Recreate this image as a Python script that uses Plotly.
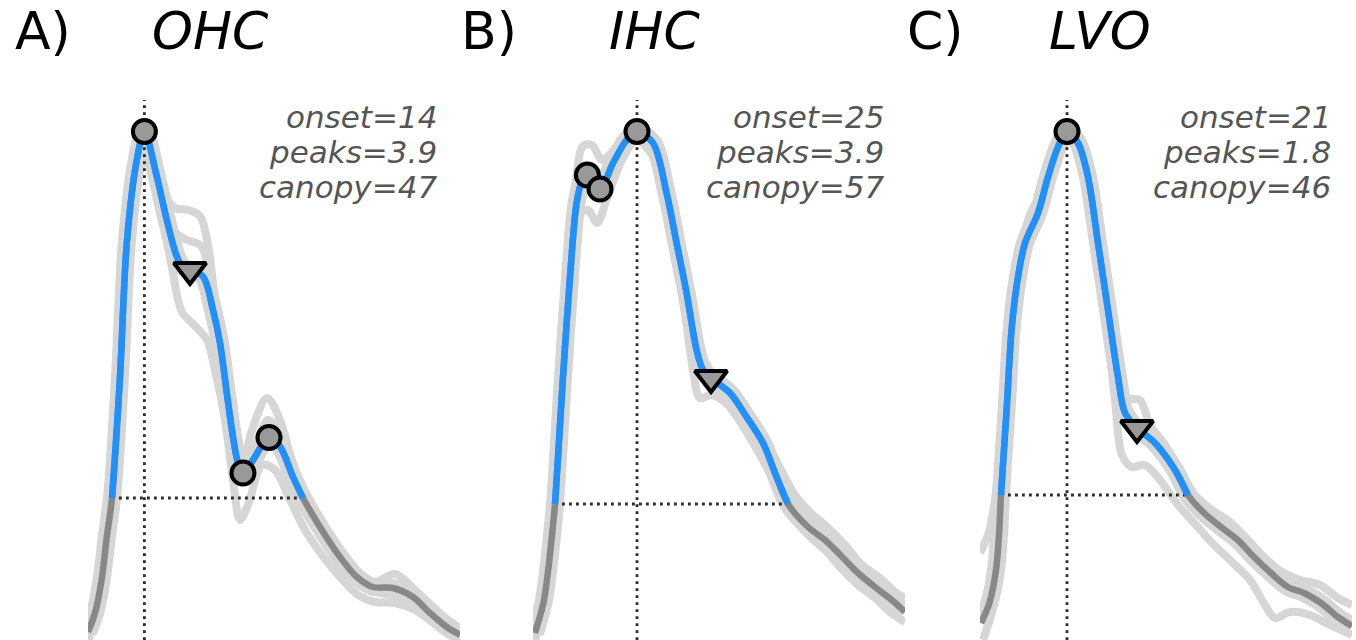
import plotly.graph_objects as go

# ---------------- data (time in ms, amplitude in % of peak) ----------------
A_x = [8.0, 9.75, 11.4, 12.7, 14.0, 16.0, 17.7, 20.2, 22.1, 25.2, 27.7, 30.2, 31.75, 33.5, 36.75,
       39.25, 41.0, 42.7, 44.25, 45.5, 46.75, 49.25, 53.25, 56.0, 59.25, 61.75, 66.0, 71.0, 75.2,
       79.25, 84.25, 89.25, 93.5, 97.7, 101.0]
A_y = [1.6, 5.4, 12.0, 20.6, 28.4, 52.6, 79.4, 96.0, 101.7, 92.7, 84.0, 76.7, 74.6, 74.0, 72.7,
       66.0, 59.4, 49.4, 40.6, 35.4, 33.4, 36.0, 40.5, 38.7, 32.6, 28.4, 22.6, 16.6, 12.6,
       10.6, 10.4, 8.6, 5.4, 2.6, 1.0]
A_boot1_x = [8.0, 9.75, 11.5, 12.75, 14.0, 16.0, 17.75, 20.25, 22.25, 24.75, 27.25, 29.75, 33.0, 36.0,
             38.0, 39.75, 41.5, 43.5, 45.25, 46.75, 49.0, 52.75, 56.0, 59.25, 62.25, 66.0, 71.0, 75.5,
             79.75, 84.75, 89.75, 94.0, 98.0, 101.0]
A_boot1_y = [3.6, 7.6, 14.6, 22.6, 31.6, 55.6, 80.0, 96.4, 101.4, 96.0, 89.0, 86.4, 86.0, 84.8,
             79.0, 68.0, 58.0, 46.0, 38.0, 35.6, 42.0, 48.4, 44.0, 35.0, 29.0, 24.0, 18.0, 13.6,
             11.6, 13.2, 10.0, 6.8, 4.0, 2.4]
A_boot2_x = [8.0, 10.0, 11.75, 13.25, 14.5, 16.25, 18.0, 20.25, 22.25, 24.25, 26.5, 29.0, 31.5, 34.75,
             37.75, 39.75, 42.25, 44.25, 46.0, 48.0, 51.5, 54.75, 58.5, 62.25, 66.5, 71.0, 75.5,
             79.75, 84.75, 89.75, 94.0, 98.0, 101.0]
A_boot2_y = [0.0, 4.0, 11.0, 20.0, 30.0, 52.0, 78.0, 95.0, 100.8, 94.0, 85.0, 74.4, 65.6, 62.8,
             60.0, 54.0, 44.0, 32.0, 24.0, 27.0, 35.0, 34.0, 28.0, 22.0, 17.0, 12.6, 9.0,
             7.6, 7.4, 6.0, 3.6, 1.2, -0.4]
A_boot3_x = [8.0, 10.0, 11.75, 13.0, 14.25, 16.25, 18.0, 20.25, 22.25, 24.75, 27.25, 29.75, 32.75,
             36.0, 38.5, 40.5, 42.5, 44.25, 46.0, 47.75, 50.5, 53.0, 56.5, 60.0, 63.5, 67.25, 71.75,
             76.0, 80.5, 85.0, 89.75, 94.0, 98.0, 101.0]
A_boot3_y = [2.8, 7.0, 14.0, 22.0, 31.0, 54.0, 79.0, 95.6, 101.6, 95.0, 87.0, 81.6, 80.0,
             79.0, 74.0, 62.0, 50.0, 40.0, 32.0, 32.4, 40.0, 44.0, 41.0, 33.0, 26.0, 21.0, 15.6,
             12.0, 9.6, 8.8, 7.6, 4.8, 2.0, 0.6]
A_peaks_x = [22.1, 46.75, 53.25]
A_peaks_y = [101.7, 33.4, 40.5]
A_tri_x = [33.5]
A_tri_y = [74.0]
A_onset, A_offset, A_level = 14.0, 61.75, 28.4

B_x = [20.0, 22.1, 23.3, 24.2, 25.0, 27.0, 28.75, 30.4, 31.7, 33.1, 36.25, 39.5, 42.9, 45.5, 49.5,
       52.9, 55.4, 57.9, 60.4, 62.0, 64.0, 68.75, 72.9, 77.0, 80.0, 83.25, 88.25, 92.5, 96.7,
       100.75, 105.0, 109.2, 112.5]
B_y = [1.4, 7.4, 14.0, 20.6, 27.2, 52.6, 72.6, 87.4, 91.7, 93.0, 90.2, 95.4, 100.0, 101.7, 99.4,
       89.4, 79.4, 69.4, 58.0, 54.0, 52.4, 49.4, 44.6, 39.4, 33.4, 27.2, 22.6, 20.0, 16.7,
       13.4, 10.6, 8.0, 5.6]
B_boot1_x = [20.0, 22.0, 23.25, 24.25, 25.25, 27.0, 28.75, 30.25, 32.0, 34.25, 36.75, 39.75, 42.75,
             45.5, 48.75, 52.25, 55.25, 58.25, 60.75, 63.75, 68.25, 72.75, 77.25, 81.25, 85.0,
             88.75, 93.0, 97.5, 101.75, 106.25, 110.0, 112.5]
B_boot1_y = [2.4, 8.4, 15.0, 22.0, 30.0, 54.0, 76.0, 92.0, 98.8, 99.0, 96.0, 98.0, 101.2,
             102.6, 101.0, 91.0, 80.0, 68.0, 59.0, 54.0, 51.0, 46.0, 40.6, 34.4, 29.0,
             25.6, 22.6, 19.0, 15.0, 12.4, 9.6, 8.4]
B_boot2_x = [20.0, 22.25, 23.5, 24.5, 25.5, 27.5, 29.25, 31.0, 33.25, 35.5, 38.25, 41.75, 45.25,
             49.25, 52.25, 54.75, 57.25, 59.5, 61.25, 64.25, 68.25, 72.25, 76.25, 80.25, 84.25,
             88.25, 92.5, 96.25, 100.75, 105.0, 108.75, 112.5]
B_boot2_y = [0.0, 6.0, 13.0, 20.0, 28.0, 51.0, 70.0, 85.0, 86.0, 83.4, 89.0, 96.0, 100.0,
             97.0, 88.0, 78.0, 67.0, 54.0, 48.4, 49.0, 47.0, 42.4, 37.0, 31.0, 25.0,
             21.0, 18.0, 14.6, 11.0, 8.4, 5.6, 3.6]
B_peaks_x = [45.5, 33.1, 36.25]
B_peaks_y = [101.7, 93.0, 90.2]
B_tri_x = [64.0]
B_tri_y = [52.4]
B_onset, B_offset, B_level = 25.0, 83.25, 27.2

C_x = [16.0, 18.1, 19.75, 20.5, 21.0, 22.4, 23.7, 25.25, 27.0, 30.25, 32.75, 35.25, 37.5, 40.25,
       42.75, 45.25, 47.75, 50.25, 52.0, 55.0, 59.5, 64.5, 67.75, 71.75, 76.0, 80.2, 84.25, 88.5,
       92.7, 96.75, 101.0, 105.2, 108.75]
C_y = [3.4, 7.4, 14.0, 21.0, 29.0, 46.0, 62.6, 72.6, 79.4, 85.4, 92.6, 98.6, 101.7, 99.4,
       92.6, 79.4, 66.0, 52.6, 45.4, 42.4, 39.4, 34.0, 29.0, 25.4, 22.6, 20.0, 16.6, 13.4,
       10.6, 9.4, 7.4, 4.6, 2.8]
C_boot1_x = [15.75, 17.75, 19.5, 21.0, 22.5, 24.0, 25.75, 28.25, 31.25, 33.75, 36.25, 38.75, 41.25,
             43.75, 46.25, 48.75, 50.75, 52.75, 55.75, 58.25, 62.0, 65.75, 69.5, 73.75, 78.25,
             82.75, 87.0, 91.25, 95.75, 100.75, 105.25, 108.75]
C_boot1_y = [17.4, 21.0, 28.0, 40.0, 54.0, 68.0, 78.0, 85.0, 90.0, 97.0, 101.6, 102.0, 98.0,
             88.0, 75.0, 62.0, 52.0, 48.4, 48.0, 43.0, 39.0, 34.0, 29.0, 26.0, 23.6,
             20.0, 16.4, 13.6, 12.0, 11.0, 8.4, 7.0]
C_boot2_x = [16.5, 18.75, 20.25, 21.25, 22.25, 23.5, 25.0, 26.75, 29.5, 32.25, 35.25, 37.5, 39.75,
             42.25, 44.75, 47.25, 49.5, 51.25, 53.75, 57.0, 60.75, 65.25, 69.75, 74.25, 78.75,
             83.25, 87.0, 89.5, 93.25, 98.25, 103.25, 108.75]
C_boot2_y = [0.0, 5.6, 13.0, 22.0, 34.0, 52.0, 66.0, 75.0, 83.0, 91.0, 98.0, 100.8, 99.0,
             91.0, 78.0, 64.0, 48.0, 37.0, 34.6, 35.0, 32.0, 27.0, 23.0, 19.0, 15.6,
             12.0, 7.0, 4.4, 5.6, 5.0, 3.0, 1.0]
C_peaks_x = [37.5]
C_peaks_y = [101.7]
C_tri_x = [55.0]
C_tri_y = [42.4]
C_onset, C_offset, C_level = 21.0, 67.75, 29.0

letters = ["A)", "B)", "C)"]
titles = ["OHC", "IHC", "LVO"]
A_stats = ["onset=14", "peaks=3.9", "canopy=47"]
B_stats = ["onset=25", "peaks=3.9", "canopy=57"]
C_stats = ["onset=21", "peaks=1.8", "canopy=46"]
x_ranges = [[8.0, 101.0], [19.5, 112.5], [15.75, 108.75]]
y_range = [0, 128]
y_dotted_top = 108

# ---------------- styling / layout constants ----------------
W, H = 1356, 640
domains_px = [(88, 460), (533, 905), (980, 1352)]
letter_px = [13, 459, 905]
title_px = [150, 607, 1047]
title_mid_py = 31
stats_right_px = [439, 886, 1333]
stats_mid_py = [117, 152, 187]
LIGHT = "#d6d6d6"
MID = "#888888"
BLUE = "#1e90ff"
DOT = "#2a2a2a"

panels = [
    dict(x=A_x, y=A_y, boots=[(A_boot1_x, A_boot1_y), (A_boot2_x, A_boot2_y), (A_boot3_x, A_boot3_y)],
         px=A_peaks_x, py=A_peaks_y, tx=A_tri_x, ty=A_tri_y,
         on=A_onset, off=A_offset, lvl=A_level, stats=A_stats),
    dict(x=B_x, y=B_y, boots=[(B_boot1_x, B_boot1_y), (B_boot2_x, B_boot2_y)],
         px=B_peaks_x, py=B_peaks_y, tx=B_tri_x, ty=B_tri_y,
         on=B_onset, off=B_offset, lvl=B_level, stats=B_stats),
    dict(x=C_x, y=C_y, boots=[(C_boot1_x, C_boot1_y), (C_boot2_x, C_boot2_y)],
         px=C_peaks_x, py=C_peaks_y, tx=C_tri_x, ty=C_tri_y,
         on=C_onset, off=C_offset, lvl=C_level, stats=C_stats),
]

fig = go.Figure()
annotations = []
for i, p in enumerate(panels):
    sfx = "" if i == 0 else str(i + 1)
    xa, ya = "x" + sfx, "y" + sfx
    common = dict(xaxis=xa, yaxis=ya, mode="lines", hoverinfo="skip", showlegend=False)
    spl = dict(shape="spline", smoothing=0.9)
    # bootstrap band
    fig.add_trace(go.Scatter(x=p["x"], y=p["y"], line=dict(color=LIGHT, width=18, **spl), **common))
    for bx, by in p["boots"]:
        fig.add_trace(go.Scatter(x=bx, y=by, line=dict(color=LIGHT, width=8, **spl), **common))
    # dotted guides
    peak_x = p["px"][0]
    fig.add_trace(go.Scatter(x=[peak_x, peak_x], y=[0, y_dotted_top],
                             line=dict(color=DOT, width=2.8, dash="2.8px,4.2px"), **common))
    fig.add_trace(go.Scatter(x=[p["on"], p["off"]], y=[p["lvl"], p["lvl"]],
                             line=dict(color=DOT, width=2.8, dash="2.8px,4.2px"), **common))
    # main curve
    fig.add_trace(go.Scatter(x=p["x"], y=p["y"], line=dict(color=MID, width=6.5, **spl), **common))
    bx = [xx for xx in p["x"] if p["on"] <= xx <= p["off"]]
    by = [yy for xx, yy in zip(p["x"], p["y"]) if p["on"] <= xx <= p["off"]]
    fig.add_trace(go.Scatter(x=bx, y=by, line=dict(color=BLUE, width=6.5, **spl), **common))
    # markers
    fig.add_trace(go.Scatter(x=p["tx"], y=p["ty"], xaxis=xa, yaxis=ya, mode="markers",
                             hoverinfo="skip", showlegend=False,
                             marker=dict(symbol="triangle-down", size=28, color="#999999",
                                         line=dict(color="black", width=4))))
    fig.add_trace(go.Scatter(x=p["px"], y=p["py"], xaxis=xa, yaxis=ya, mode="markers",
                             hoverinfo="skip", showlegend=False,
                             marker=dict(symbol="circle", size=23, color="#999999",
                                         line=dict(color="black", width=4))))
    # axes
    d0, d1 = domains_px[i]
    fig.update_layout(**{
        "xaxis" + sfx: dict(domain=[d0 / W, d1 / W], range=x_ranges[i], visible=False,
                            fixedrange=True, anchor=ya),
        "yaxis" + sfx: dict(domain=[0, 1], range=y_range, visible=False,
                            fixedrange=True, anchor=xa),
    })
    # titles
    annotations.append(dict(x=letter_px[i] / W, y=1 - title_mid_py / H, xref="paper", yref="paper",
                            text=letters[i], showarrow=False, xanchor="left", yanchor="middle",
                            font=dict(family="DejaVu Sans", size=52, color="black")))
    annotations.append(dict(x=title_px[i] / W, y=1 - title_mid_py / H, xref="paper", yref="paper",
                            text=titles[i], showarrow=False, xanchor="left", yanchor="middle",
                            font=dict(family="DejaVu Sans", size=52, color="black", style="italic")))
    for j, s in enumerate(p["stats"]):
        annotations.append(dict(x=stats_right_px[i] / W, y=1 - stats_mid_py[j] / H,
                                xref="paper", yref="paper", text=s, showarrow=False,
                                xanchor="right", yanchor="middle",
                                font=dict(family="DejaVu Sans", size=31, color="#555555",
                                          style="italic")))

fig.update_layout(width=W, height=H, margin=dict(l=0, r=0, t=0, b=0),
                  paper_bgcolor="white", plot_bgcolor="white",
                  annotations=annotations, showlegend=False)
fig.write_html("out.html", config={"displayModeBar": False, "staticPlot": True},
               post_script="document.body.style.margin='0px';document.body.style.overflow='hidden';")
